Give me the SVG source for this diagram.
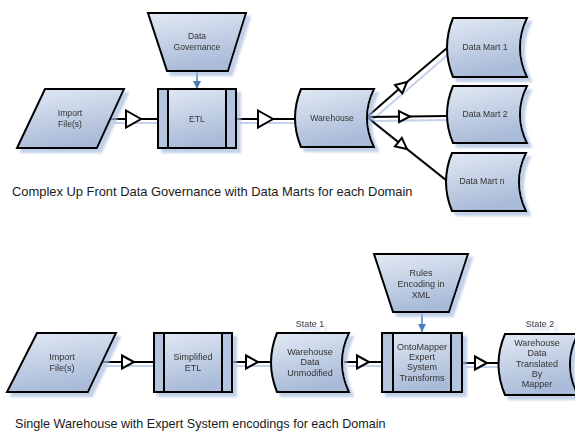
<svg xmlns="http://www.w3.org/2000/svg" width="575" height="434" viewBox="0 0 575 434">
<style>
.shape{fill:url(#g);stroke:#000;stroke-width:2;stroke-linejoin:miter}
.side{fill:#b4c4de;stroke:#000;stroke-width:2}
.t{font-family:"Liberation Sans",Arial,sans-serif;font-size:8.6px;fill:#333;text-anchor:middle}
.tb{font-family:"Liberation Sans",Arial,sans-serif;font-size:9px;fill:#333;text-anchor:middle}
.cap{font-family:"Liberation Sans",Arial,sans-serif;font-size:12.9px;fill:#1a1a1a}
.c{fill:none;stroke:#000;stroke-width:2}
.cs{fill:none;stroke:#c3d1ea;stroke-width:2}
.cb{fill:none;stroke:#4a7ebb;stroke-width:1.5}
.n{filter:url(#sh)}
</style>
<defs>
<linearGradient id="g" x1="0" y1="0" x2="0.3" y2="1">
<stop offset="0" stop-color="#e2e9f4"/>
<stop offset="1" stop-color="#a9bbd8"/>
</linearGradient>
<filter id="sh" x="-10%" y="-10%" width="130%" height="130%">
<feDropShadow dx="4" dy="4" stdDeviation="0.8" flood-color="#a8bde0" flood-opacity="0.7"/>
</filter>
<marker id="tri" markerUnits="userSpaceOnUse" viewBox="0 0 15 17" refX="15" refY="8.5" markerWidth="15" markerHeight="17" orient="auto" overflow="visible">
<path d="M0,0 L15,8.5 L0,17 Z" fill="#fff" stroke="#000" stroke-width="2" stroke-linejoin="miter"/>
</marker>
<marker id="tris" markerUnits="userSpaceOnUse" viewBox="0 0 12 13" refX="12" refY="6.5" markerWidth="12" markerHeight="13" orient="auto" overflow="visible">
<path d="M0,0 L12,6.5 L0,13 Z" fill="#fff" stroke="#000" stroke-width="2" stroke-linejoin="miter"/>
</marker>
<marker id="trid" markerUnits="userSpaceOnUse" viewBox="0 0 11 11" refX="11" refY="5.5" markerWidth="11" markerHeight="11" orient="auto" overflow="visible">
<path d="M0,0 L11,5.5 L0,11 Z" fill="#fff" stroke="#000" stroke-width="2" stroke-linejoin="miter"/>
</marker>
<marker id="blue" markerUnits="userSpaceOnUse" viewBox="0 0 8 8" refX="8" refY="4" markerWidth="8" markerHeight="8" orient="auto">
<path d="M0,0 L8,4 L0,8 Z" fill="#4a7ebb"/>
</marker>
</defs>
<rect width="575" height="434" fill="#fff"/>

<g id="connectors">
<g id="connector-shadows">
<path class="cs" d="M114,123 L162,123"/>
<path class="cs" d="M240,123 L303,123"/>
<path class="cs" d="M371,121 L451,52"/>
<path class="cs" d="M371,121 L451,120"/>
<path class="cs" d="M371,121 L450,184"/>
<path class="cs" d="M106,366 L158,366"/>
<path class="cs" d="M236,366 L277,366"/>
<path class="cs" d="M348,366 L386,366"/>
<path class="cs" d="M466,367 L506,367"/>
</g>
<path class="c" d="M110,119 L141,119 L158,119" marker-mid="url(#tri)"/>
<path class="c" d="M236,119 L273,119 L299,119" marker-mid="url(#tri)"/>
<path class="c" d="M367,117 L407,82 L447,48" marker-mid="url(#trid)"/>
<path class="c" d="M367,117 L410,116.5 L447,116" marker-mid="url(#trid)"/>
<path class="c" d="M367,117 L407,149 L446,180" marker-mid="url(#trid)"/>
<path class="cb" d="M197,71 L197,89" marker-end="url(#blue)"/>
<path class="c" d="M102,362 L134,362 L154,362" marker-mid="url(#tris)"/>
<path class="c" d="M232,362 L258,362 L273,362" marker-mid="url(#tris)"/>
<path class="c" d="M344,362 L369,362 L382,362" marker-mid="url(#tris)"/>
<path class="c" d="M462,363 L487,363 L502,363" marker-mid="url(#tris)"/>
<path class="cb" d="M422,312 L422,332" marker-end="url(#blue)"/>
</g>

<g id="import1" class="n">
<polygon class="shape" points="45,89 124,89 97,148 17,148"/>
<text class="t" x="70" y="116">Import</text>
<text class="t" x="70" y="127">File(s)</text>
</g>
<g id="governance" class="n">
<polygon class="shape" points="148,13 246,13 228,71 167,71"/>
<text class="t" x="197" y="39">Data</text>
<text class="t" x="197" y="50">Governance</text>
</g>
<g id="etl" class="n">
<rect class="shape" x="158" y="89" width="78" height="59"/>
<rect class="side" x="158" y="89" width="10" height="59"/>
<rect class="side" x="226" y="89" width="10" height="59"/>
<text class="t" x="197" y="122">ETL</text>
</g>
<g id="warehouse" class="n">
<path class="shape" d="M301,89 L374,89 Q360,118 374,147 L301,147 Q289,118 301,89 Z"/>
<text class="t" x="332" y="121">Warehouse</text>
</g>
<g id="mart1" class="n">
<path class="shape" d="M453,18 L527,18 Q513,47.5 527,77 L453,77 Q441,47.5 453,18 Z"/>
<text class="t" x="485" y="50">Data Mart 1</text>
</g>
<g id="mart2" class="n">
<path class="shape" d="M453,86 L527,86 Q513,114.5 527,143 L453,143 Q441,114.5 453,86 Z"/>
<text class="t" x="485" y="117">Data Mart 2</text>
</g>
<g id="martn" class="n">
<path class="shape" d="M452,153 L526,153 Q512,182 526,211 L452,211 Q440,182 452,153 Z"/>
<text class="t" x="482" y="184">Data Mart n</text>
</g>
<text class="cap" x="12" y="195.5">Complex Up Front Data Governance with Data Marts for each Domain</text>

<g id="import2" class="n">
<polygon class="shape" points="37,333 116,333 88,392 7,392"/>
<text class="tb" x="62" y="360">Import</text>
<text class="tb" x="62" y="371">File(s)</text>
</g>
<g id="setl" class="n">
<rect class="shape" x="154" y="333" width="78" height="59"/>
<rect class="side" x="154" y="333" width="10" height="59"/>
<rect class="side" x="222" y="333" width="10" height="59"/>
<text class="tb" x="193" y="360">Simplified</text>
<text class="tb" x="193" y="371">ETL</text>
</g>
<g id="unmodified" class="n">
<text class="tb" x="310" y="327" style="filter:none">State 1</text>
<path class="shape" d="M277,333 L349,333 Q335,362.5 349,392 L277,392 Q265,362.5 277,333 Z"/>
<text class="tb" x="310" y="355">Warehouse</text>
<text class="tb" x="310" y="365">Data</text>
<text class="tb" x="310" y="375.5">Unmodified</text>
</g>
<g id="rules" class="n">
<polygon class="shape" points="374,254 468,254 449,312 393,312"/>
<text class="tb" x="421" y="276">Rules</text>
<text class="tb" x="421" y="287">Encoding in</text>
<text class="tb" x="421" y="298">XML</text>
</g>
<g id="ontomapper" class="n">
<rect class="shape" x="382" y="333" width="80" height="59"/>
<rect class="side" x="382" y="333" width="11" height="59"/>
<rect class="side" x="451" y="333" width="11" height="59"/>
<text class="tb" x="422" y="350">OntoMapper</text>
<text class="tb" x="422" y="360">Expert</text>
<text class="tb" x="422" y="370">System</text>
<text class="tb" x="422" y="380.5">Transforms</text>
</g>
<g id="translated" class="n">
<text class="tb" x="540" y="327" style="filter:none">State 2</text>
<path class="shape" d="M505,334 L578,334 Q562,364.5 578,395 L505,395 Q492,364.5 505,334 Z"/>
<text class="tb" x="537" y="345.5">Warehouse</text>
<text class="tb" x="537" y="356">Data</text>
<text class="tb" x="537" y="366.5">Translated</text>
<text class="tb" x="537" y="377">By</text>
<text class="tb" x="537" y="387">Mapper</text>
</g>
<text class="cap" x="15" y="428" style="font-size:12.6px">Single Warehouse with Expert System encodings for each Domain</text>
</svg>
